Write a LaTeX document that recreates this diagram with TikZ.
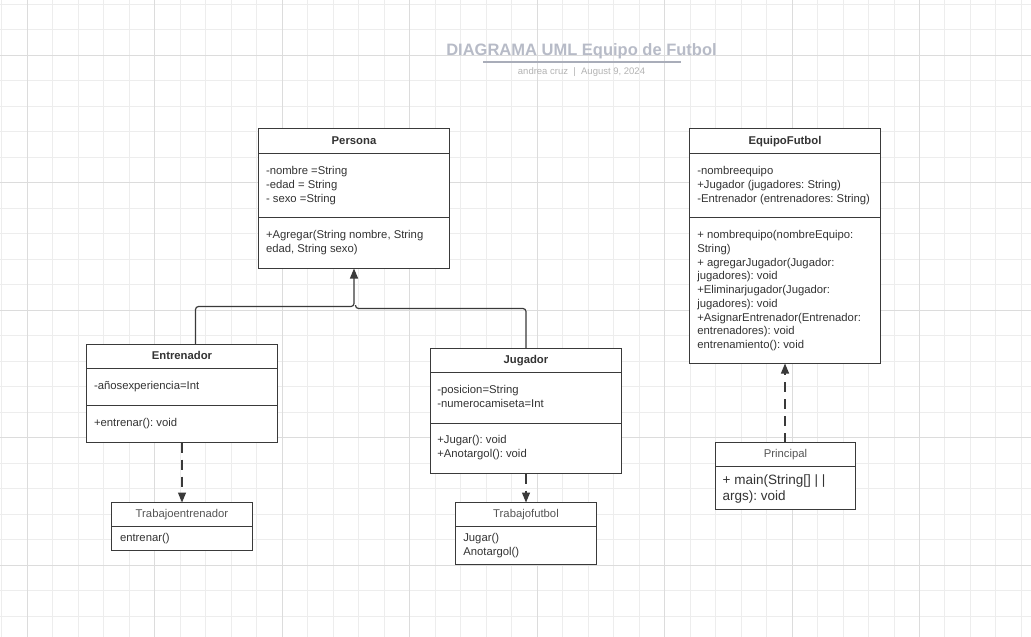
\documentclass[tikz,border=0pt]{standalone}
\usepackage{fontspec}
\setmainfont{Liberation Sans}
\frenchspacing
\usetikzlibrary{arrows.meta,calc}
\definecolor{gridminor}{HTML}{EDEDED}
\definecolor{gridmajor}{HTML}{DCDCDC}
\definecolor{boxc}{HTML}{3A3A3A}
\definecolor{txtc}{HTML}{333333}
\definecolor{hdrlight}{HTML}{555555}
\definecolor{titlec}{HTML}{B7BBC7}
\definecolor{rulec}{HTML}{A9ADB9}
\definecolor{subc}{HTML}{B3B3B3}
\newcommand{\mlines}[5]{%
  \foreach \t [count=\i] in {#5}{%
    \node[txt, name=#1\i] at (#2,{#3+#4*(\i-1)}) {\t};}}
\begin{document}
\begin{tikzpicture}[x=1pt,y=-1pt,
 classbox/.style={draw=boxc, line width=1.2pt, fill=white, inner sep=0pt, outer sep=0pt, anchor=north west},
 divline/.style={draw=boxc, line width=1.2pt},
 txt/.style={inner sep=0pt, outer sep=0pt, text=txtc, font=\fontsize{11.3}{14}\selectfont, anchor=base west},
 bigtxt/.style={txt, font=\fontsize{13.5}{16}\selectfont},
 hdr/.style={inner sep=0pt, text=txtc, font=\bfseries\fontsize{11.3}{14}\selectfont, anchor=base},
 hdrn/.style={inner sep=0pt, text=hdrlight, font=\fontsize{11.3}{14}\selectfont, anchor=base},
 inh/.style={draw=boxc, line width=1.2pt, rounded corners=3pt, -{Triangle[length=10pt,width=8pt]}},
 dep/.style={draw=boxc, line width=1.2pt, dash pattern=on 10pt off 7pt, -{Triangle[length=10pt,width=8pt]}},
 gminor/.style={draw=gridminor, line width=0.9pt},
 gmajor/.style={draw=gridmajor, line width=1pt},
]
\useasboundingbox (0,0) rectangle (1031,637);
\fill[white] (0,0) rectangle (1031,637);
% grid
\foreach \k in {0,...,40}{\draw[gminor] ({1.8+25.49*\k},0) -- ({1.8+25.49*\k},637);}
\foreach \k in {0,...,25}{\draw[gminor] (0,{4.3+25.5*\k}) -- (1031,{4.3+25.5*\k});}
\foreach \k in {0,...,7}{\draw[gmajor] ({27.3+127.45*\k},0) -- ({27.3+127.45*\k},637);}
\foreach \k in {0,...,4}{\draw[gmajor] (0,{55.3+127.5*\k}) -- (1031,{55.3+127.5*\k});}

% title
\node[inner sep=0pt, anchor=base, text=titlec, font=\bfseries\fontsize{16.5}{20}\selectfont] (title) at (581.5,55) {DIAGRAMA UML Equipo de Futbol};
\draw[rulec, line width=1.5pt] (483,62) -- (681,62);
\node[inner sep=0pt, anchor=base, text=subc, font=\fontsize{9.5}{12}\selectfont] (sub) at (581.5,74.5) {andrea cruz \ | \ August 9, 2024};

% Persona
\node[classbox, minimum width=191pt, minimum height=140pt] (persona) at (258.5,128.5) {};
\draw[divline] (persona.west |- 0,153.5) -- (persona.east |- 0,153.5);
\draw[divline] (persona.west |- 0,217.5) -- (persona.east |- 0,217.5);
\node[hdr] (personaH) at (354,144) {Persona};
\mlines{pa}{266}{174.5}{14}{-nombre =String,-edad = String,- sexo =String}
\mlines{pm}{266}{238.8}{14}{{+Agregar(String nombre, String},{edad, String sexo)}}

% EquipoFutbol
\node[classbox, minimum width=191pt, minimum height=235pt] (equipo) at (689.5,128.5) {};
\draw[divline] (equipo.west |- 0,153.5) -- (equipo.east |- 0,153.5);
\draw[divline] (equipo.west |- 0,217.5) -- (equipo.east |- 0,217.5);
\node[hdr] (equipoH) at (785,144) {EquipoFutbol};
\mlines{ea}{697.3}{174.5}{14}{-nombreequipo,+Jugador (jugadores: String),-Entrenador (entrenadores: String)}
\mlines{em}{697.3}{238.8}{13.7}{+ nombrequipo(nombreEquipo:,String),+ agregarJugador(Jugador:,jugadores): void,+Eliminarjugador(Jugador:,jugadores): void,+AsignarEntrenador(Entrenador:,entrenadores): void,entrenamiento(): void}

% Entrenador
\node[classbox, minimum width=191pt, minimum height=98pt] (entr) at (86.5,344.5) {};
\draw[divline] (entr.west |- 0,368.5) -- (entr.east |- 0,368.5);
\draw[divline] (entr.west |- 0,405.5) -- (entr.east |- 0,405.5);
\node[hdr] (entrH) at (182,359) {Entrenador};
\node[txt] (entrA) at (94,389.5) {-añosexperiencia=Int};
\node[txt] (entrM) at (94,426.5) {+entrenar(): void};

% Trabajoentrenador
\node[classbox, minimum width=141pt, minimum height=48pt] (trabE) at (111.5,502.5) {};
\draw[divline] (trabE.west |- 0,526.5) -- (trabE.east |- 0,526.5);
\node[hdrn] (trabEH) at (182,517) {Trabajoentrenador};
\node[txt] (trabEM) at (120,541) {entrenar()};

% Jugador
\node[classbox, minimum width=191pt, minimum height=125pt] (jug) at (430.5,348.5) {};
\draw[divline] (jug.west |- 0,372.5) -- (jug.east |- 0,372.5);
\draw[divline] (jug.west |- 0,423.5) -- (jug.east |- 0,423.5);
\node[hdr] (jugH) at (526,363) {Jugador};
\mlines{ja}{437.3}{393}{14}{-posicion=String,-numerocamiseta=Int}
\mlines{jm}{437.3}{443.3}{14}{+Jugar(): void,+Anotargol(): void}

% Trabajofutbol
\node[classbox, minimum width=141pt, minimum height=62pt] (trabF) at (455.5,502.5) {};
\draw[divline] (trabF.west |- 0,526.5) -- (trabF.east |- 0,526.5);
\node[hdrn] (trabFH) at (526,517) {Trabajofutbol};
\mlines{tf}{463.3}{541}{14}{Jugar(),Anotargol()}

% Principal
\node[classbox, minimum width=140pt, minimum height=67pt] (princ) at (715.5,442.5) {};
\draw[divline] (princ.west |- 0,466.5) -- (princ.east |- 0,466.5);
\node[hdrn] (princH) at (785.5,457) {Principal};
\node[bigtxt] (princM1) at (722.7,484) {+ main(String[] | |};
\node[bigtxt] (princM2) at (722.7,500) {args): void};

% connectors
\draw[inh] ([xshift=13.5pt]entr.north) -- ([xshift=13.5pt]entr.north |- 0,306.5) -- (persona.south |- 0,306.5) -- (persona.south);
\draw[draw=boxc, line width=1.2pt, rounded corners=3pt] (jug.north) -- (jug.north |- 0,308.5) -- ([xshift=1.5pt]persona.south |- 0,308.5) -- ([xshift=1.5pt]persona.south |- 0,305);
\draw[dep] (entr.south) -- (trabE.north);
\draw[dep] (jug.south) -- (trabF.north);
\draw[dep] ([xshift=-0.5pt]princ.north) -- (equipo.south);
\end{tikzpicture}
\end{document}
